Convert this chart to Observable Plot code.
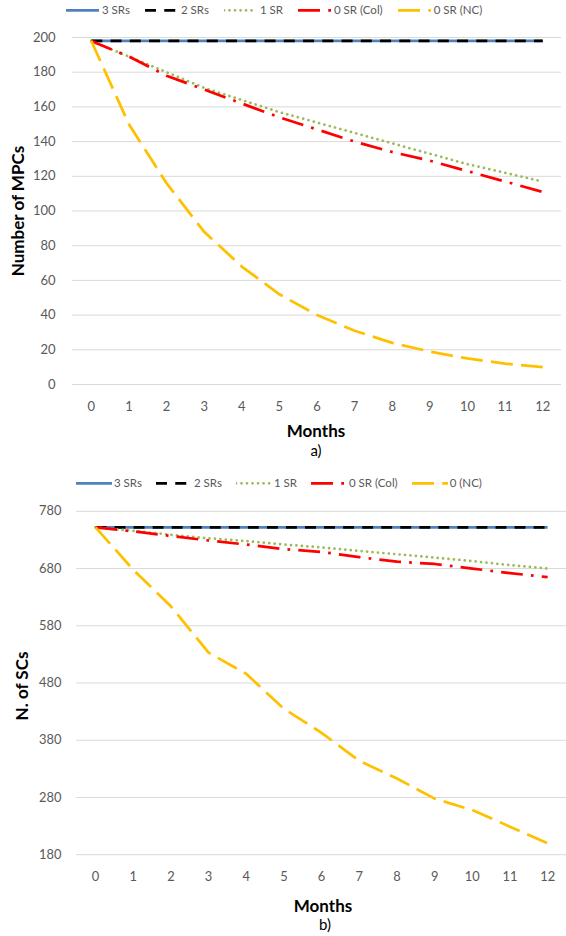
<!DOCTYPE html>
<html>
<head>
<meta charset="utf-8">
<script src="https://cdn.jsdelivr.net/npm/d3@7"></script>
<script src="https://cdn.jsdelivr.net/npm/@observablehq/plot@0.6"></script>
<style>
html,body{margin:0;padding:0;background:#fff;overflow:hidden;}
#wrap{position:relative;width:566px;height:936px;overflow:hidden;font-family:Lato,"Open Sans",sans-serif;}
.legend{position:absolute;display:flex;align-items:center;font-size:11.5px;color:#595959;white-space:nowrap;transform:translateY(-50%);line-height:1;}
.legend .item{display:flex;align-items:center;}
.legend svg{display:block;}
.ttl{position:absolute;font-weight:bold;font-size:17px;line-height:1;color:#000;transform:translate(-50%,-50%);white-space:nowrap;}
.cap{position:absolute;font-size:15px;line-height:1;color:#000;transform:translate(-50%,-50%);white-space:nowrap;}
.ylab{position:absolute;font-weight:bold;font-size:17px;line-height:1;color:#000;transform:translate(-50%,-50%) rotate(-90deg);white-space:nowrap;}
.plotbox{position:absolute;left:0;}
</style>
</head>
<body>
<div id="wrap"></div>
<script>
// ---------- data ----------
const months = [0, 1, 2, 3, 4, 5, 6, 7, 8, 9, 10, 11, 12];

// chart a) Number of MPCs
const namesA = ["3 SRs", "2 SRs", "1 SR", "0 SR (Col)", "0 SR (NC)"];
const mpc3SR  = [198, 198, 198, 198, 198, 198, 198, 198, 198, 198, 198, 198, 198];
const mpc2SR  = [198, 198, 198, 198, 198, 198, 198, 198, 198, 198, 198, 198, 198];
const mpc1SR  = [198, 189, 180, 171, 164, 157, 151, 145, 139, 133, 127, 122, 117];
const mpc0Col = [198, 189, 178, 170, 162, 154, 147, 140, 134, 129, 123, 117, 111];
const mpc0NC  = [198, 150, 116, 88, 68, 52, 40, 31, 24, 19, 15, 12, 10];
const yTicksA = [0, 20, 40, 60, 80, 100, 120, 140, 160, 180, 200];

// chart b) N. of SCs
const namesB = ["3 SRs", "2 SRs", "1 SR", "0 SR (Col)", "0 (NC)"];
const sc3SR  = [752, 752, 752, 752, 752, 752, 752, 752, 752, 752, 752, 752, 752];
const sc2SR  = [752, 752, 752, 752, 752, 752, 752, 752, 752, 752, 752, 752, 752];
const sc1SR  = [752, 746, 739, 733, 728, 722, 717, 711, 705, 699, 693, 686, 680];
const sc0Col = [752, 745, 737, 729, 722, 714, 709, 700, 692, 688, 680, 672, 665];
const sc0NC  = [752, 678, 614, 533, 496, 435, 393, 344, 313, 278, 258, 229, 200];
const yTicksB = [180, 280, 380, 480, 580, 680, 780];

// ---------- styles ----------
const SW = 2.75;
const lineStyles = [
  {stroke: "#4F81BD", dash: null, cap: "butt"},
  {stroke: "#000000", dash: "11,8.25", cap: "butt"},
  {stroke: "#9BBB59", dash: "0.01,5.5", cap: "round"},
  {stroke: "#FF0000", dash: "22,8.25,2.75,8.25", cap: "butt"},
  {stroke: "#FFC000", dash: "22,8.25", cap: "butt"}
];

const wrap = document.getElementById("wrap");

function makeLegend(names, left, top, sampleW, textGap, itemGap) {
  const lg = document.createElement("div");
  lg.className = "legend";
  lg.style.left = left + "px";
  lg.style.top = top + "px";
  names.forEach((n, i) => {
    const s = lineStyles[i];
    const it = document.createElement("div");
    it.className = "item";
    if (i > 0) it.style.marginLeft = itemGap + "px";
    const ns = "http://www.w3.org/2000/svg";
    const svg = document.createElementNS(ns, "svg");
    svg.setAttribute("width", sampleW);
    svg.setAttribute("height", 8);
    const ln = document.createElementNS(ns, "line");
    ln.setAttribute("x1", 0); ln.setAttribute("x2", sampleW);
    ln.setAttribute("y1", 4); ln.setAttribute("y2", 4);
    ln.setAttribute("stroke", s.stroke);
    ln.setAttribute("stroke-width", SW);
    ln.setAttribute("stroke-linecap", s.cap);
    if (s.dash) ln.setAttribute("stroke-dasharray", s.dash);
    svg.appendChild(ln);
    it.appendChild(svg);
    const t = document.createElement("span");
    t.textContent = n;
    t.style.marginLeft = textGap + "px";
    it.appendChild(t);
    lg.appendChild(it);
  });
  wrap.appendChild(lg);
}

function makeChart(opts) {
  const {seriesValues, names, yDomain, yTicks, width, height, marginLeft, marginRight, marginTop, marginBottom, tickPadY, top} = opts;
  const lines = seriesValues.map((vals, i) => {
    const s = lineStyles[i];
    const data = months.map((m, j) => ({month: m, value: vals[j], series: names[i]}));
    return Plot.line(data, {
      x: "month", y: "value",
      stroke: s.stroke, strokeWidth: SW,
      strokeDasharray: s.dash || undefined,
      strokeLinecap: s.cap, strokeLinejoin: "round"
    });
  });
  const p = Plot.plot({
    width, height, marginLeft, marginRight, marginTop, marginBottom,
    style: {fontFamily: "Lato, 'Open Sans', sans-serif", fontSize: "13px", color: "#595959", background: "transparent", overflow: "visible"},
    x: {domain: [-0.5, 12.5], ticks: months, tickFormat: d => String(d), label: null},
    y: {domain: yDomain, ticks: yTicks, label: null},
    marks: [
      Plot.gridY(yTicks, {stroke: "#d9d9d9", strokeOpacity: 1, strokeWidth: 1}),
      Plot.axisX(months, {tickSize: 0, tickPadding: 17, label: null, fill: "#595959"}),
      Plot.axisY(yTicks, {tickSize: 0, tickPadding: tickPadY, label: null, fill: "#595959"}),
      ...lines
    ]
  });
  const box = document.createElement("div");
  box.className = "plotbox";
  box.style.top = top + "px";
  box.appendChild(p);
  wrap.appendChild(box);
}

function addText(cls, txt, x, y) {
  const d = document.createElement("div");
  d.className = cls; d.textContent = txt;
  d.style.left = x + "px"; d.style.top = y + "px";
  wrap.appendChild(d);
}

// ---------- chart a ----------
makeLegend(namesA, 66, 10, 33, 3, 15);
makeChart({
  seriesValues: [mpc3SR, mpc2SR, mpc1SR, mpc0Col, mpc0NC],
  names: namesA, yDomain: [0, 200], yTicks: yTicksA,
  width: 566, height: 420, marginLeft: 72, marginRight: 5, marginTop: 17, marginBottom: 56,
  tickPadY: 17, top: 20
});
addText("ylab", "Number of MPCs", 17, 211);
addText("ttl", "Months", 316, 430);
addText("cap", "a)", 316, 450);

// ---------- chart b ----------
makeLegend(namesB, 76, 483, 36, 2, 14);
makeChart({
  seriesValues: [sc3SR, sc2SR, sc1SR, sc0Col, sc0NC],
  names: namesB, yDomain: [180, 780], yTicks: yTicksB,
  width: 572, height: 420, marginLeft: 77, marginRight: 0, marginTop: 16, marginBottom: 57,
  tickPadY: 15.5, top: 495
});
addText("ylab", "N. of SCs", 21, 686);
addText("ttl", "Months", 323, 905);
addText("cap", "b)", 325, 924);
</script>
</body>
</html>
